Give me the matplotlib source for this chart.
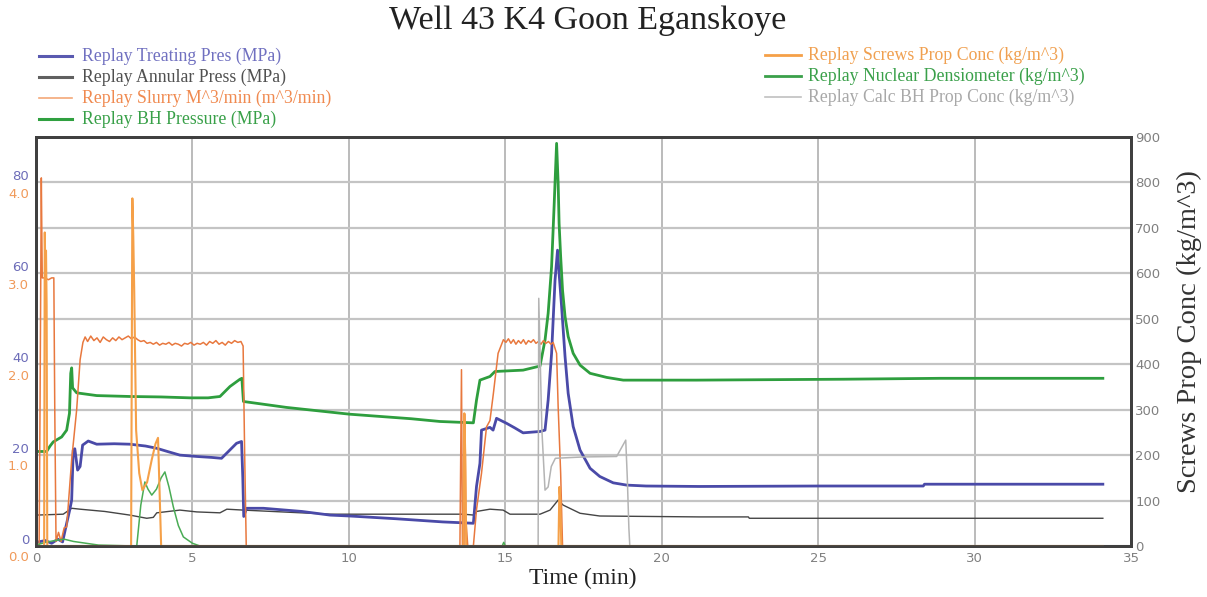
import matplotlib
matplotlib.use("Agg")
import matplotlib.pyplot as plt
import matplotlib.transforms as mtransforms
from matplotlib.lines import Line2D

## Data (time in min)
# Treating pressure (MPa, left axis)
t_treat = [0.0, 0.3, 0.5, 0.7, 0.85, 0.98, 1.08, 1.14, 1.19, 1.24, 1.33, 1.41, 1.49, 1.67, 1.94, 2.5, 3.0,
           3.5, 3.86, 4.2, 4.6, 5.14, 5.6, 5.93, 6.15, 6.41, 6.57, 6.61, 6.64, 6.73, 7.27, 8.5, 9.4, 10.03,
           11.5, 13.0, 13.66, 13.98, 14.08, 14.19, 14.24, 14.51, 14.61, 14.72, 15.04, 15.3, 15.57, 16.11,
           16.27, 16.37, 16.48, 16.59, 16.67, 16.72, 16.80, 16.91, 17.01, 17.17, 17.39, 17.71, 18.02,
           18.45, 18.88, 19.5, 21.2, 25.0, 28.36, 28.4, 34.1]
p_treat = [0.8, 1.2, 0.6, 1.5, 0.9, 5.0, 8.0, 10.1, 21.1, 21.4, 16.7, 17.5, 22.2, 23.1, 22.4, 22.5, 22.4,
           22.0, 21.5, 20.8, 20.0, 19.7, 19.5, 19.3, 20.8, 22.6, 23.0, 15.0, 6.5, 8.3, 8.3, 7.6, 6.8, 6.6,
           6.0, 5.3, 5.1, 5.0, 13.1, 18.2, 25.5, 26.1, 25.5, 28.1, 27.0, 26.0, 24.9, 25.2,
           25.5, 32.1, 42.4, 58.5, 65.1, 60.0, 52.7, 41.7, 33.6, 26.3, 21.1, 17.1, 15.3,
           13.9, 13.4, 13.2, 13.1, 13.2, 13.2, 13.6, 13.6]

# Annular pressure (MPa, left axis)
t_ann = [0.0, 0.87, 1.14, 1.41, 2.2, 3.0, 3.54, 3.75, 3.86, 4.6, 5.14, 5.88, 6.1, 6.63, 9.4, 13.66, 14.0,
         14.08, 14.51, 14.93, 15.15, 16.11, 16.43, 16.69, 16.85, 17.39, 18.02, 21.2, 22.77, 22.8, 34.1]
p_ann = [6.8, 7.0, 8.3, 8.1, 7.6, 6.8, 6.1, 6.3, 7.3, 7.9, 7.5, 7.3, 8.1, 7.9, 7.0, 7.0, 6.8,
         7.6, 8.1, 7.9, 7.0, 7.0, 7.9, 10.1, 9.0, 7.2, 6.6, 6.4, 6.4, 6.1, 6.1]

# BH pressure (MPa, left axis)
t_bh = [0.0, 0.34, 0.45, 0.55, 0.82, 0.98, 1.07, 1.11, 1.14, 1.17, 1.30, 1.94, 3.0, 4.0, 4.92, 5.5, 5.88,
        6.20, 6.52, 6.58, 6.63, 8.0, 9.08, 10.03, 12.0, 12.91, 13.98, 14.08, 14.19, 14.51, 14.67, 15.57,
        16.11, 16.27, 16.37, 16.48, 16.56, 16.64, 16.69, 16.72, 16.77, 16.83, 16.91, 17.01, 17.17, 17.39,
        17.71, 18.24, 18.77, 21.1, 25.8, 28.9, 34.1]
p_bh = [20.8, 20.8, 22.0, 22.9, 24.0, 25.5, 29.2, 38.0, 39.2, 34.8, 33.7, 33.1, 32.9, 32.8, 32.6, 32.6, 32.9,
        35.1, 36.7, 36.9, 31.8, 30.5, 29.7, 29.0, 28.0, 27.4, 27.1, 32.1, 36.5, 37.3, 38.4, 38.7,
        39.6, 45.3, 51.2, 61.5, 74.7, 88.6, 79.8, 71.0, 63.7, 56.3, 50.5, 46.1, 42.4, 39.8,
        38.0, 37.1, 36.5, 36.5, 36.7, 36.9, 36.9]

# Slurry rate (m^3/min, left orange scale)
t_slurry = [0.0, 0.10, 0.13, 0.17, 0.20, 0.26, 0.40, 0.50, 0.57, 0.60, 0.64, 0.72, 0.80, 0.90, 0.98, 1.14,
            1.30, 1.41, 1.50, 1.57,
            1.65, 1.75, 1.85, 1.95, 2.05, 2.15, 2.25, 2.35, 2.45, 2.55, 2.65, 2.75, 2.85, 2.95, 3.05,
            3.15, 3.25, 3.35, 3.45, 3.55, 3.65, 3.75, 3.85, 3.95, 4.05, 4.15, 4.25, 4.35, 4.45, 4.55,
            4.65, 4.75, 4.85, 4.95, 5.05, 5.15, 5.25, 5.35, 5.45, 5.55, 5.65, 5.75, 5.85, 5.95, 6.05,
            6.15, 6.25, 6.35, 6.45, 6.55,
            6.62, 6.67, 6.72, 13.55, 13.60, 13.63, 13.68, 13.71, 13.74, 13.80, 13.98, 14.08, 14.24,
            14.40, 14.51, 14.62, 14.77, 14.94,
            15.02, 15.10, 15.18, 15.26, 15.34, 15.42, 15.50, 15.58, 15.66, 15.74, 15.82, 15.90, 15.98,
            16.06, 16.14, 16.22, 16.30, 16.38, 16.46, 16.53,
            16.64, 16.69, 16.77, 16.83, 34.1]
q_slurry = [0.0, 0.0, 1.6, 4.05, 2.95, 2.95, 2.93, 2.95, 2.95, 1.5, 0.05, 0.15, 0.05, 0.20, 0.21, 0.95,
            1.50, 2.05, 2.24, 2.30,
            2.25, 2.31, 2.26, 2.29, 2.24, 2.30, 2.27, 2.25, 2.29, 2.26, 2.30, 2.27, 2.29, 2.31, 2.28,
            2.30, 2.27, 2.25, 2.26, 2.23, 2.24, 2.22, 2.24, 2.21, 2.23, 2.22, 2.24, 2.21, 2.23, 2.22,
            2.20, 2.23, 2.22, 2.24, 2.21, 2.23, 2.22, 2.24, 2.21, 2.25, 2.23, 2.26, 2.22, 2.24, 2.21,
            2.25, 2.23, 2.26, 2.24, 2.25,
            2.20, 1.0, 0.0, 0.0, 1.94, 0.0, 0.0, 1.45, 0.3, 0.0, 0.0, 0.40, 0.80,
            1.31, 1.38, 1.68, 2.12, 2.27,
            2.24, 2.28, 2.23, 2.27, 2.22, 2.26, 2.23, 2.27, 2.22, 2.26, 2.24, 2.27, 2.23,
            2.25, 2.22, 2.26, 2.23, 2.25, 2.22, 2.24,
            2.12, 1.53, 0.80, 0.0, 0.0]

# Screws prop conc (kg/m^3, right axis)
t_screws = [0.0, 0.26, 0.28, 0.30, 0.32, 0.34, 0.36, 3.04, 3.08, 3.11, 3.14, 3.20, 3.30, 3.40, 3.55, 3.70,
            3.82, 3.90, 3.95, 4.00, 13.66, 13.69, 13.72, 13.75, 16.70, 16.73, 16.76, 16.79, 34.1]
c_screws = [0, 0, 690, 600, 650, 530, 0, 0, 765, 680, 560, 255, 160, 123, 140, 190,
            225, 238, 120, 0, 0, 292, 200, 0, 0, 130, 100, 0, 0]

# Nuclear densiometer (kg/m^3, right axis)
t_nuc = [0.0, 0.3, 0.6, 0.9, 1.2, 1.6, 2.0, 3.15, 3.22, 3.35, 3.48, 3.58, 3.70, 3.85, 4.00, 4.12, 4.25,
         4.39, 4.55, 4.71, 5.0, 5.24, 14.9, 14.95, 15.0, 34.1]
c_nuc = [2, 8, 12, 15, 10, 6, 2, 0, 0, 90, 141, 125, 112, 125, 150, 163, 130,
         86, 45, 20, 6, 0, 0, 8, 0, 0]

# Calc BH prop conc (kg/m^3, right axis)
t_calc = [0.0, 16.0, 16.05, 16.07, 16.12, 16.17, 16.27, 16.37, 16.47, 16.6, 17.5, 18.56, 18.85, 18.9,
          18.95, 18.98, 34.1]
c_calc = [0, 0, 0, 545, 400, 255, 123, 130, 175, 193, 196, 197, 233, 150, 40, 0, 0]

press_ticks = [0, 20, 40, 60, 80]
slurry_ticks = ["0.0", "1.0", "2.0", "3.0", "4.0"]

## Colours
c_treat = '#4a4aa8'
c_annular = '#454545'
c_slurry_col = '#e8783e'
c_bh = '#2e9e3e'
c_screws_col = '#f5a048'
c_nuc_col = '#4aac55'
c_calc_col = '#b4b4b4'

W, H = 1207, 597
fig = plt.figure(figsize=(W / 100, H / 100), dpi=100)
ax = fig.add_axes([36 / W, 51 / H, 1095 / W, 409 / H])
ax_s = ax.twinx()
ax_r = ax.twinx()

ax.set_xlim(0, 35)
ax.set_ylim(0, 90)
ax_s.set_ylim(0, 4.5)
ax_r.set_ylim(0, 900)

# grid
ax.set_yticks(range(0, 91, 10))
ax.set_xticks(range(0, 36, 5))
ax.yaxis.grid(True, color='#c4c4c4', lw=1.6)
ax.xaxis.grid(True, color='#a8a8a8', lw=1.1)
ax.tick_params(axis='y', length=0, labelleft=False)
ax.tick_params(axis='x', length=0, labelsize=9.5, labelcolor='#808080', pad=4)
for lab in ax.get_xticklabels():
    lab.set_fontfamily('DejaVu Sans')
ax_s.set_yticks([])
ax_r.set_yticks(range(0, 901, 100))
ax_r.tick_params(axis='y', length=0, labelsize=9.5, labelcolor='#808080', pad=3)

for a in (ax, ax_s, ax_r):
    for sp in a.spines.values():
        sp.set_color('#404040')
        sp.set_linewidth(2)

## Curves
ax.plot(t_ann, p_ann, color=c_annular, lw=1.0)
ax.plot(t_treat, p_treat, color=c_treat, lw=2.0)
ax.plot(t_bh, p_bh, color=c_bh, lw=2.0)
ax_s.plot(t_slurry, q_slurry, color=c_slurry_col, lw=1.1)
ax_r.plot(t_calc, c_calc, color=c_calc_col, lw=1.1)
ax_r.plot(t_nuc, c_nuc, color=c_nuc_col, lw=1.1)
ax_r.plot(t_screws, c_screws, color=c_screws_col, lw=1.5)

## Left stacked labels (pressure in blue, slurry in orange)
trans = mtransforms.blended_transform_factory(ax.transAxes, ax.transData)
for v, s in zip(press_ticks, slurry_ticks):
    ax.annotate(str(v), xy=(0, v), xycoords=trans, xytext=(-5, 4), textcoords='offset points',
                ha='right', va='center', fontsize=9.5, color='#6c6cb8', annotation_clip=False)
    ax.annotate(s, xy=(0, v), xycoords=trans, xytext=(-5, -8.5), textcoords='offset points',
                ha='right', va='center', fontsize=9.5, color='#f09a5a', annotation_clip=False)

## Titles
serif = 'Liberation Serif'
fig.text(588 / W, 1 - 21 / H, 'Well 43 K4 Goon Eganskoye', ha='center', va='center',
         fontsize=24.5, family=serif, color='#222222')
fig.text(583 / W, 1 - 578 / H, 'Time (min)', ha='center', va='center', fontsize=17,
         family=serif, color='#222222')
fig.text(1189 / W, 1 - 332 / H, 'Screws Prop Conc (kg/m^3)', ha='center', va='center',
         rotation=90, fontsize=20.5, family=serif, color='#333333')

## Legends drawn by hand
left_items = [('Replay Treating Pres (MPa)', '#5a5ab0', '#7070c0', 2.2),
              ('Replay Annular Press (MPa)', '#606060', '#505050', 2.2),
              ('Replay Slurry M^3/min (m^3/min)', '#f4a878', '#f08a50', 1.2),
              ('Replay BH Pressure (MPa)', '#30a040', '#38a048', 2.2)]
right_items = [('Replay Screws Prop Conc (kg/m^3)', '#f5a048', '#f0a050', 2.0),
               ('Replay Nuclear Densiometer (kg/m^3)', '#3aa04a', '#3aa04a', 2.0),
               ('Replay Calc BH Prop Conc (kg/m^3)', '#c0c0c0', '#a8a8a8', 1.2)]
for i, (txt, lc, tc, lw) in enumerate(left_items):
    y = 1 - (56 + 21 * i) / H
    fig.add_artist(Line2D([39 / W, 72 / W], [y, y], color=lc, lw=lw))
    fig.text(82 / W, y, txt, ha='left', va='center', fontsize=12.8, family=serif, color=tc)
for i, (txt, lc, tc, lw) in enumerate(right_items):
    y = 1 - (55 + 21 * i) / H
    fig.add_artist(Line2D([765 / W, 801 / W], [y, y], color=lc, lw=lw))
    fig.text(808 / W, y, txt, ha='left', va='center', fontsize=12.8, family=serif, color=tc)

fig.savefig('out.png', dpi=100)
